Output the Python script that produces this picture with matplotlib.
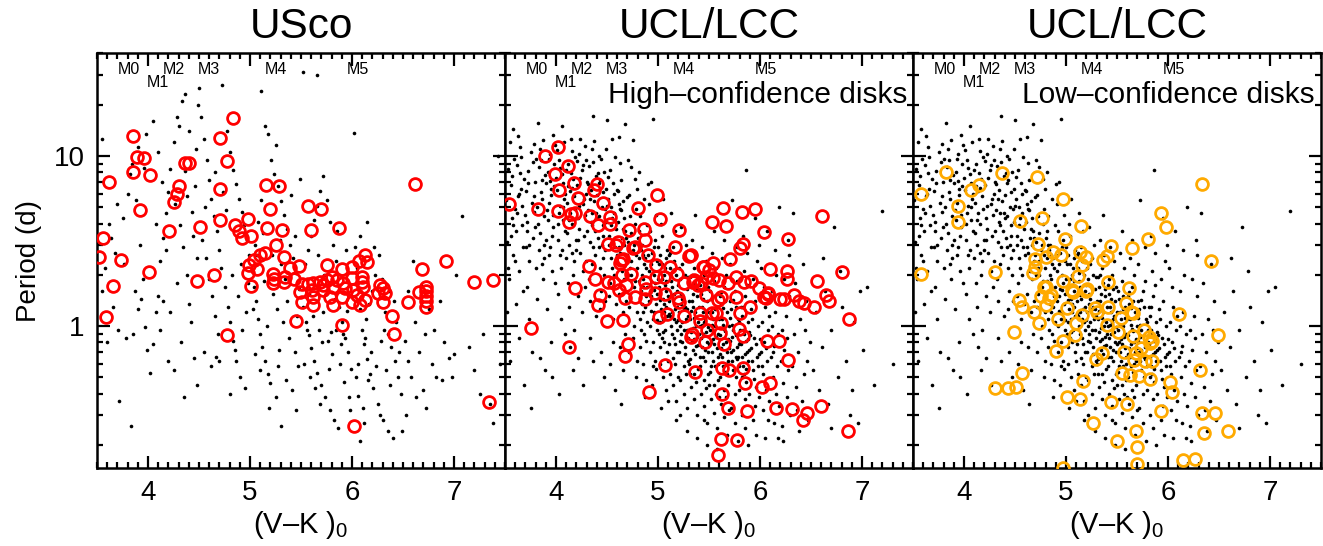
import numpy as np
import matplotlib.pyplot as plt
from matplotlib.ticker import FixedLocator, MultipleLocator, LogLocator, NullFormatter

plt.rcParams['font.family'] = ['Liberation Sans', 'DejaVu Sans']
plt.rcParams['mathtext.fontset'] = 'custom'
plt.rcParams['mathtext.rm'] = 'Liberation Sans'

# spectral type markers along the top of each panel
spt_names = ['M0', 'M1', 'M2', 'M3', 'M4', 'M5']
spt_vk = [3.81, 4.10, 4.25, 4.60, 5.25, 6.06]
spt_row = [0, 1, 0, 0, 0, 0]

# USco rotators: (V-K)0, period in days
usco_stars = [
    (3.55, 12.5), (3.62, 4.0), (3.58, 2.2), (3.66, 1.3), (3.71, 0.95), (3.78, 0.85), (3.83, 0.26), (3.72, 0.36),
    (3.60, 0.8), (3.55, 1.6), (3.68, 2.7), (3.75, 4.3), (3.80, 6.0), (3.84, 9.0), (3.88, 5.5), (3.92, 3.0),
    (3.95, 1.9), (3.90, 1.25), (3.97, 0.98), (3.93, 1.45), (3.99, 0.72), (3.85, 0.9), (3.64, 3.3), (3.70, 5.2),
    (3.82, 7.8), (3.90, 11.3), (3.98, 13.5), (3.96, 8.5), (3.76, 2.3), (3.87, 1.6),
    (4.02, 0.53), (4.05, 0.78), (4.08, 1.2), (4.10, 1.5), (4.12, 2.4), (4.15, 3.3), (4.18, 4.6), (4.20, 6.1),
    (4.22, 8.4), (4.25, 12.0), (4.28, 17.0), (4.30, 15.0), (4.33, 21.0), (4.36, 23.0), (4.05, 16.0), (4.10, 10.5),
    (4.14, 7.0), (4.26, 5.2), (4.31, 3.9), (4.34, 2.9), (4.38, 2.0), (4.40, 1.35), (4.42, 1.05), (4.45, 0.65),
    (4.48, 0.45), (4.12, 0.95), (4.20, 0.62), (4.25, 0.55), (4.35, 0.38), (4.08, 4.0), (4.18, 2.8), (4.28, 1.8),
    (4.43, 4.7), (4.46, 6.6), (4.47, 11.0), (4.40, 14.0), (4.44, 3.4), (4.36, 8.1), (4.22, 1.2), (4.32, 0.8),
    (4.50, 25.0), (4.49, 20.0), (4.48, 2.5), (4.15, 1.4), (4.38, 5.8),
    (4.52, 17.0), (4.55, 12.5), (4.58, 9.5), (4.60, 7.2), (4.62, 5.6), (4.65, 4.4), (4.68, 3.6), (4.70, 2.8),
    (4.72, 2.2), (4.75, 1.7), (4.78, 1.3), (4.80, 1.05), (4.83, 0.82), (4.86, 0.62), (4.90, 0.5), (4.95, 0.43),
    (4.53, 3.2), (4.57, 2.5), (4.60, 1.9), (4.63, 1.5), (4.66, 1.15), (4.69, 0.9), (4.73, 26.0), (4.77, 14.0),
    (4.80, 10.5), (4.83, 8.3), (4.86, 6.8), (4.89, 5.6), (4.92, 4.7), (4.94, 3.9), (4.97, 3.2), (4.99, 2.6),
    (4.55, 0.7), (4.62, 0.58), (4.70, 0.62), (4.85, 0.72), (4.92, 0.95), (4.96, 1.2), (4.88, 1.5), (4.82, 2.0),
    (4.76, 4.8), (4.66, 8.0), (4.74, 6.1), (4.56, 5.0), (4.91, 2.3), (4.98, 1.8), (4.80, 0.4), (4.67, 0.66),
    (5.02, 2.1), (5.04, 1.7), (5.06, 1.4), (5.08, 1.1), (5.10, 0.9), (5.12, 0.75), (5.15, 0.62), (5.18, 0.52),
    (5.20, 0.46), (5.25, 0.38), (5.30, 0.26), (5.05, 3.0), (5.08, 4.1), (5.11, 5.5), (5.11, 24.0), (5.15, 15.0),
    (5.18, 13.5), (5.21, 9.5), (5.24, 7.8), (5.27, 6.6), (5.30, 5.4), (5.33, 4.5), (5.36, 3.7), (5.39, 3.0),
    (5.42, 2.5), (5.45, 2.05), (5.48, 1.65), (5.03, 1.25), (5.14, 1.85), (5.22, 2.6), (5.26, 1.25), (5.32, 1.05),
    (5.38, 0.85), (5.44, 0.7), (5.47, 0.58), (5.35, 0.48), (5.41, 0.42), (5.28, 0.72), (5.17, 1.0), (5.23, 1.55),
    (5.34, 1.9), (5.46, 1.15), (5.13, 3.5), (5.07, 2.6), (5.29, 3.2), (5.40, 5.9), (5.49, 7.3), (5.25, 11.5),
    (5.45, 0.32), (5.19, 0.33), (5.10, 0.55), (5.36, 1.4), (5.05, 0.68), (5.44, 3.4), (5.30, 2.3), (5.27, 0.58),
    (5.52, 31.0), (5.66, 30.0), (5.52, 1.3), (5.55, 1.05), (5.58, 0.88), (5.60, 0.74), (5.63, 0.62), (5.66, 0.53),
    (5.70, 0.45), (5.74, 0.38), (5.78, 0.32), (5.82, 0.28), (5.86, 0.25), (5.54, 2.3), (5.57, 2.8), (5.60, 3.4),
    (5.63, 4.2), (5.66, 5.1), (5.69, 6.2), (5.72, 7.6), (5.75, 5.5), (5.78, 4.1), (5.81, 3.0), (5.84, 2.4),
    (5.87, 1.3), (5.90, 1.05), (5.93, 0.85), (5.96, 0.7), (5.99, 0.56), (5.56, 0.95), (5.62, 1.15), (5.68, 0.95),
    (5.72, 1.2), (5.76, 0.82), (5.80, 0.68), (5.84, 0.95), (5.88, 0.6), (5.92, 0.47), (5.97, 0.38), (5.64, 0.43),
    (5.71, 0.8), (5.53, 0.6), (5.59, 0.5), (5.77, 0.56), (5.89, 0.78), (5.95, 1.22), (5.98, 0.32), (5.67, 2.6),
    (5.85, 3.6), (5.94, 2.8), (5.58, 1.55), (5.73, 2.0), (5.83, 1.45), (5.69, 0.35), (5.79, 0.92), (5.91, 0.9),
    (6.02, 13.6), (6.03, 2.9), (6.05, 2.2), (6.08, 1.25), (6.10, 0.95), (6.12, 0.78), (6.15, 0.64), (6.18, 0.52),
    (6.21, 0.43), (6.25, 0.35), (6.30, 0.28), (6.35, 0.24), (6.40, 0.22), (6.04, 0.5), (6.06, 0.39), (6.08, 0.21),
    (6.11, 0.33), (6.14, 1.1), (6.17, 1.35), (6.20, 1.6), (6.23, 2.0), (6.26, 2.6), (6.29, 1.9), (6.32, 1.2),
    (6.35, 0.9), (6.38, 0.75), (6.42, 0.62), (6.45, 0.5), (6.48, 0.4), (6.13, 0.85), (6.19, 0.7), (6.24, 0.58),
    (6.28, 0.82), (6.33, 0.55), (6.37, 0.45), (6.43, 1.05), (6.46, 0.7), (6.49, 0.24), (6.08, 3.4), (6.15, 4.1),
    (6.22, 2.9), (6.41, 1.4), (6.27, 0.3), (6.12, 0.27), (6.06, 0.6), (6.16, 0.48), (6.36, 1.6), (6.31, 0.95),
    (6.52, 0.82), (6.55, 0.62), (6.58, 0.5), (6.62, 1.05), (6.66, 0.7), (6.70, 0.42), (6.72, 0.9), (6.75, 1.25),
    (6.78, 0.6), (6.82, 0.5), (6.86, 1.4), (6.90, 0.8), (6.95, 0.65), (6.98, 0.5), (7.02, 2.0), (7.08, 4.4),
    (7.15, 0.75), (7.20, 0.55), (7.28, 0.9), (7.35, 0.35), (7.38, 0.27), (7.43, 10.0), (7.45, 0.6), (6.60, 2.4),
    (6.68, 1.75), (6.80, 0.95), (6.55, 1.6), (6.63, 0.38), (6.73, 0.33), (6.88, 0.48), (7.00, 0.68), (7.25, 0.4),
    (6.53, 0.3),
]

# USco stars with disks
usco_disks = [
    (3.85, 13.1), (4.83, 16.7), (4.71, 12.8), (3.89, 9.9), (3.96, 9.7), (4.36, 9.1), (4.40, 9.1), (4.77, 9.35),
    (3.85, 8.05), (4.02, 7.7), (3.62, 7.0), (4.30, 6.6), (4.28, 5.97), (4.25, 5.36), (4.71, 6.4), (5.16, 6.75),
    (5.28, 6.6), (6.62, 6.85), (3.92, 4.8), (5.57, 5.08), (5.70, 4.88), (5.20, 4.88), (4.71, 4.2), (4.98, 4.27),
    (4.51, 3.82), (4.85, 3.93), (4.89, 3.62), (5.01, 3.39), (5.17, 3.77), (5.31, 3.67), (5.60, 3.67), (5.87, 3.77),
    (4.21, 3.62), (3.56, 3.29), (3.52, 2.55), (3.74, 2.44), (4.01, 2.08), (3.66, 1.72), (3.59, 1.13), (4.48, 1.84),
    (4.65, 2.0), (4.77, 0.885), (5.45, 1.07), (5.90, 1.01), (6.39, 1.15), (6.41, 0.90), (6.02, 0.258), (7.34, 0.357),
    (6.92, 2.41), (6.69, 2.16), (7.20, 1.81), (7.38, 1.87), (6.55, 1.38), (6.73, 1.70), (6.73, 1.60), (6.73, 1.50),
    (6.73, 1.40), (6.73, 1.30), (6.66, 1.58), (4.92, 3.3), (5.25, 2.99), (5.15, 2.69), (5.10, 2.61), (5.04, 2.44),
    (4.99, 2.28), (5.33, 2.55), (5.07, 2.16), (4.98, 2.05), (5.01, 1.72), (5.23, 2.02), (5.24, 1.89), (5.23, 1.79),
    (5.39, 2.19), (5.48, 2.25), (5.34, 1.94), (5.43, 1.89), (5.33, 1.81), (5.51, 1.77), (5.57, 1.77), (5.62, 1.79),
    (5.69, 1.81), (5.75, 1.86), (5.80, 1.94), (5.75, 2.28), (5.90, 2.16), (6.00, 2.22), (6.07, 2.41), (6.13, 2.61),
    (6.15, 2.38), (6.00, 1.91), (6.10, 1.94), (5.85, 1.86), (5.91, 1.79), (5.49, 1.58), (5.61, 1.63), (5.72, 1.63),
    (5.81, 1.70), (5.93, 1.67), (6.01, 1.63), (6.11, 1.70), (6.10, 1.81), (5.51, 1.38), (5.62, 1.48), (5.62, 1.33),
    (5.81, 1.33), (5.90, 1.48), (6.00, 1.38), (6.08, 1.33), (6.13, 1.42), (6.05, 1.52), (5.72, 1.74), (6.27, 1.74),
    (6.30, 1.67), (6.25, 1.56), (6.32, 1.56), (6.30, 1.38), (5.78, 1.48),
]

# UCL/LCC rotators (same sample in both right-hand panels)
ucl_stars = [
    (3.51, 5.5), (3.52, 3.1), (3.53, 8.4), (3.54, 1.9), (3.55, 12.1), (3.56, 6.7), (3.57, 4.3), (3.58, 14.4),
    (3.58, 2.6), (3.59, 9.6), (3.52, 1.2), (3.55, 0.62), (3.57, 7.6), (3.60, 4.9), (3.53, 2.2),
    (3.61, 3.6), (3.62, 8.8), (3.63, 5.8), (3.64, 2.1), (3.65, 11.2), (3.66, 6.4), (3.67, 3.9), (3.68, 1.6),
    (3.69, 7.3), (3.62, 4.6), (3.64, 0.85), (3.66, 9.9), (3.68, 2.9), (3.61, 1.35), (3.67, 5.1), (3.69, 0.45),
    (3.63, 13.0),
    (3.71, 6.2), (3.72, 4.1), (3.73, 8.1), (3.74, 2.4), (3.75, 10.5), (3.76, 5.3), (3.77, 3.3), (3.78, 11.8),
    (3.79, 7.0), (3.72, 1.7), (3.74, 1.1), (3.76, 0.7), (3.78, 4.7), (3.71, 2.9), (3.73, 6.9), (3.77, 9.2),
    (3.79, 3.8), (3.75, 0.33),
    (3.81, 5.0), (3.82, 15.6), (3.83, 8.6), (3.84, 3.5), (3.85, 6.1), (3.86, 2.3), (3.87, 12.4), (3.88, 4.4),
    (3.89, 7.7), (3.81, 1.45), (3.83, 2.8), (3.85, 9.5), (3.87, 1.9), (3.89, 0.55), (3.82, 4.0), (3.84, 11.0),
    (3.86, 5.6), (3.88, 3.0), (3.90, 6.9), (3.84, 0.65),
    (3.91, 4.8), (3.92, 8.0), (3.93, 2.6), (3.94, 10.3), (3.95, 5.9), (3.96, 3.4), (3.97, 13.2), (3.98, 6.6),
    (3.99, 1.8), (3.92, 4.2), (3.94, 7.1), (3.96, 2.1), (3.98, 9.0), (3.91, 1.25), (3.93, 5.3), (3.95, 0.8),
    (3.97, 3.8), (3.99, 11.5), (3.94, 2.9), (3.96, 0.5),
    (4.01, 6.3), (4.02, 3.2), (4.03, 9.4), (4.04, 5.1), (4.05, 2.2), (4.06, 7.8), (4.07, 4.2), (4.08, 12.0),
    (4.09, 3.6), (4.02, 1.55), (4.04, 8.5), (4.06, 2.8), (4.08, 5.6), (4.01, 10.8), (4.03, 4.6), (4.05, 1.1),
    (4.07, 6.9), (4.09, 0.9), (4.10, 2.5), (4.03, 0.4), (4.06, 15.0),
    (4.11, 5.3), (4.12, 8.9), (4.13, 3.0), (4.14, 6.2), (4.15, 12.6), (4.16, 4.0), (4.17, 7.3), (4.18, 2.4),
    (4.19, 9.9), (4.12, 1.8), (4.14, 4.6), (4.16, 10.6), (4.18, 5.8), (4.11, 3.5), (4.13, 1.3), (4.15, 7.9),
    (4.17, 2.0), (4.19, 4.9), (4.20, 3.2), (4.14, 0.75), (4.17, 0.55), (4.12, 6.6), (4.18, 0.95),
    (4.21, 6.7), (4.22, 4.3), (4.23, 10.2), (4.24, 2.7), (4.25, 8.2), (4.26, 5.2), (4.27, 3.4), (4.28, 11.4),
    (4.29, 6.0), (4.22, 1.5), (4.24, 7.4), (4.26, 2.1), (4.28, 4.5), (4.21, 9.3), (4.23, 3.7), (4.25, 1.2),
    (4.27, 5.6), (4.29, 2.4), (4.30, 7.0), (4.22, 0.65), (4.26, 0.45), (4.28, 1.7), (4.24, 12.5),
    (4.31, 4.8), (4.32, 8.7), (4.33, 3.1), (4.34, 6.3), (4.35, 10.9), (4.36, 17.2), (4.37, 5.4), (4.38, 2.6),
    (4.39, 7.6), (4.32, 1.9), (4.34, 4.1), (4.36, 9.2), (4.38, 3.6), (4.31, 6.8), (4.33, 1.4), (4.35, 2.3),
    (4.37, 12.2), (4.39, 4.6), (4.40, 5.9), (4.33, 0.85), (4.36, 0.62), (4.39, 1.15), (4.35, 3.9),
    (4.41, 3.3), (4.42, 6.9), (4.43, 2.2), (4.44, 9.6), (4.45, 5.0), (4.46, 3.9), (4.47, 8.0), (4.48, 2.8),
    (4.49, 11.0), (4.42, 4.4), (4.44, 1.6), (4.46, 6.1), (4.48, 4.9), (4.41, 7.9), (4.43, 1.25), (4.45, 3.0),
    (4.47, 2.0), (4.49, 6.4), (4.50, 16.3), (4.44, 0.7), (4.47, 0.5), (4.42, 10.0), (4.48, 1.4), (4.46, 2.5),
    (4.51, 5.6), (4.52, 3.4), (4.53, 8.3), (4.54, 2.5), (4.55, 4.3), (4.56, 6.9), (4.57, 2.0), (4.58, 9.9),
    (4.59, 3.7), (4.52, 1.5), (4.54, 5.0), (4.56, 1.1), (4.58, 2.9), (4.51, 7.5), (4.53, 1.8), (4.55, 12.5),
    (4.57, 4.6), (4.59, 1.35), (4.60, 6.3), (4.53, 0.6), (4.56, 0.8), (4.58, 0.42), (4.55, 2.2), (4.52, 3.0),
    (4.61, 4.1), (4.62, 12.9), (4.63, 2.7), (4.64, 7.2), (4.65, 3.3), (4.66, 5.4), (4.67, 1.9), (4.68, 15.4),
    (4.69, 2.4), (4.62, 1.55), (4.64, 4.8), (4.66, 1.2), (4.68, 3.6), (4.61, 6.2), (4.63, 9.1), (4.65, 2.1),
    (4.67, 4.3), (4.69, 1.4), (4.70, 5.7), (4.63, 0.75), (4.66, 0.55), (4.68, 0.9), (4.62, 2.9), (4.67, 3.0),
    (4.64, 0.35),
    (4.71, 3.1), (4.72, 5.9), (4.73, 2.2), (4.74, 8.6), (4.75, 12.3), (4.76, 1.7), (4.77, 4.0), (4.78, 2.6),
    (4.79, 6.4), (4.72, 1.3), (4.74, 3.5), (4.76, 1.0), (4.78, 4.9), (4.71, 2.0), (4.73, 1.55), (4.75, 2.8),
    (4.77, 7.3), (4.79, 1.2), (4.80, 3.3), (4.72, 0.7), (4.75, 0.85), (4.78, 0.5), (4.74, 2.4), (4.77, 1.85),
    (4.71, 9.5), (4.79, 0.62),
    (4.81, 2.5), (4.82, 4.4), (4.83, 1.6), (4.84, 3.0), (4.85, 1.9), (4.86, 5.6), (4.87, 1.3), (4.88, 2.2),
    (4.89, 3.9), (4.82, 1.1), (4.84, 2.0), (4.86, 0.9), (4.88, 1.5), (4.81, 3.6), (4.83, 2.8), (4.85, 1.2),
    (4.87, 2.5), (4.89, 1.7), (4.90, 6.8), (4.82, 0.75), (4.85, 0.6), (4.88, 0.48), (4.84, 1.35), (4.86, 2.3),
    (4.81, 8.0), (4.87, 0.38), (4.83, 0.95), (4.89, 1.05),
    (4.91, 2.1), (4.92, 3.6), (4.93, 1.5), (4.94, 2.7), (4.95, 16.5), (4.96, 1.2), (4.97, 1.8), (4.98, 4.5),
    (4.99, 2.4), (4.92, 1.0), (4.94, 1.65), (4.96, 2.9), (4.98, 1.35), (4.91, 5.2), (4.93, 2.3), (4.95, 1.1),
    (4.97, 3.2), (4.99, 0.95), (5.00, 1.9), (4.92, 0.7), (4.95, 0.8), (4.98, 0.56), (4.94, 0.45), (4.96, 2.0),
    (4.91, 1.4), (4.97, 0.62), (4.93, 7.0), (4.99, 1.55),
    (5.01, 1.7), (5.02, 2.6), (5.03, 1.25), (5.04, 3.4), (5.05, 1.45), (5.06, 2.0), (5.07, 0.95), (5.08, 1.6),
    (5.09, 2.8), (5.02, 1.05), (5.04, 1.9), (5.06, 0.8), (5.08, 1.3), (5.01, 2.3), (5.03, 4.0), (5.05, 1.1),
    (5.07, 2.2), (5.09, 0.7), (5.10, 1.5), (5.02, 0.6), (5.05, 0.5), (5.08, 0.42), (5.04, 0.85), (5.06, 1.35),
    (5.01, 0.9), (5.07, 1.75), (5.03, 0.33), (5.09, 1.15), (5.05, 5.6), (5.08, 2.5),
    (5.11, 1.4), (5.12, 2.2), (5.13, 1.0), (5.14, 1.7), (5.15, 2.9), (5.16, 0.85), (5.17, 1.25), (5.18, 2.0),
    (5.19, 0.7), (5.12, 1.15), (5.14, 0.9), (5.16, 1.55), (5.18, 1.05), (5.11, 2.6), (5.13, 1.85), (5.15, 0.65),
    (5.17, 3.6), (5.19, 1.3), (5.20, 1.75), (5.12, 0.52), (5.15, 0.45), (5.18, 0.36), (5.14, 1.2), (5.16, 2.4),
    (5.11, 0.78), (5.17, 0.6), (5.13, 4.6), (5.19, 0.95), (5.15, 1.45), (5.18, 0.28),
    (5.21, 1.2), (5.22, 1.9), (5.23, 0.9), (5.24, 1.45), (5.25, 2.5), (5.26, 0.75), (5.27, 1.1), (5.28, 1.65),
    (5.29, 0.62), (5.22, 1.0), (5.24, 0.8), (5.26, 1.3), (5.28, 0.95), (5.21, 2.2), (5.23, 1.55), (5.25, 0.58),
    (5.27, 3.0), (5.29, 1.15), (5.30, 1.4), (5.22, 0.48), (5.25, 0.4), (5.28, 0.33), (5.24, 1.05), (5.26, 2.0),
    (5.21, 0.7), (5.27, 0.52), (5.23, 3.8), (5.29, 0.85), (5.25, 1.25), (5.28, 0.24), (5.22, 0.3),
    (5.31, 1.1), (5.32, 1.7), (5.33, 0.82), (5.34, 1.3), (5.35, 2.2), (5.36, 0.68), (5.37, 1.0), (5.38, 1.5),
    (5.39, 0.56), (5.32, 0.92), (5.34, 0.72), (5.36, 1.2), (5.38, 0.86), (5.31, 1.95), (5.33, 1.4), (5.35, 0.52),
    (5.37, 2.6), (5.39, 1.05), (5.40, 1.3), (5.32, 0.44), (5.35, 0.37), (5.38, 0.3), (5.34, 0.97), (5.36, 1.8),
    (5.31, 0.64), (5.37, 0.47), (5.33, 3.2), (5.39, 0.77), (5.35, 1.12), (5.38, 0.22), (5.36, 4.5),
    (5.41, 1.0), (5.42, 1.55), (5.43, 0.75), (5.44, 1.2), (5.45, 2.0), (5.46, 0.62), (5.47, 0.92), (5.48, 1.4),
    (5.49, 0.52), (5.42, 0.85), (5.44, 0.66), (5.46, 1.1), (5.48, 0.8), (5.41, 1.75), (5.43, 1.3), (5.45, 0.48),
    (5.47, 2.4), (5.49, 0.98), (5.50, 1.2), (5.42, 0.4), (5.45, 0.34), (5.48, 0.27), (5.44, 0.9), (5.46, 1.65),
    (5.41, 0.58), (5.47, 0.43), (5.43, 2.9), (5.49, 0.7), (5.45, 1.05), (5.48, 0.2),
    (5.51, 0.95), (5.52, 1.45), (5.53, 0.7), (5.54, 1.1), (5.55, 1.85), (5.56, 0.58), (5.57, 0.86), (5.58, 1.3),
    (5.59, 0.48), (5.52, 0.8), (5.54, 0.62), (5.56, 1.0), (5.58, 0.74), (5.51, 1.6), (5.53, 1.2), (5.55, 0.45),
    (5.57, 2.2), (5.59, 0.9), (5.60, 1.1), (5.52, 0.37), (5.55, 0.31), (5.58, 0.25), (5.54, 0.84), (5.56, 1.5),
    (5.51, 0.54), (5.57, 0.4), (5.53, 2.7), (5.59, 0.66), (5.55, 3.6), (5.58, 0.19),
    (5.61, 0.88), (5.62, 1.35), (5.63, 0.66), (5.64, 1.02), (5.65, 1.7), (5.66, 0.54), (5.67, 0.8), (5.68, 1.2),
    (5.69, 0.45), (5.62, 0.74), (5.64, 0.58), (5.66, 0.94), (5.68, 0.7), (5.61, 1.5), (5.63, 1.1), (5.65, 0.42),
    (5.67, 2.0), (5.69, 0.84), (5.70, 1.0), (5.62, 0.35), (5.65, 0.29), (5.68, 0.23), (5.64, 0.78), (5.66, 1.4),
    (5.61, 0.5), (5.67, 0.38), (5.63, 2.5), (5.69, 0.62), (5.65, 3.2),
    (5.71, 0.82), (5.72, 1.25), (5.73, 0.62), (5.74, 0.95), (5.75, 1.6), (5.76, 0.5), (5.77, 0.75), (5.78, 1.1),
    (5.79, 0.42), (5.72, 0.7), (5.74, 0.55), (5.76, 0.88), (5.78, 0.66), (5.71, 1.4), (5.73, 1.02), (5.75, 0.4),
    (5.77, 1.85), (5.79, 0.78), (5.80, 0.95), (5.72, 0.33), (5.75, 0.27), (5.78, 0.21), (5.74, 0.72), (5.76, 1.3),
    (5.71, 2.3), (5.77, 2.9), (5.73, 5.5), (5.79, 0.58),
    (5.81, 0.78), (5.82, 1.15), (5.83, 0.58), (5.84, 0.9), (5.85, 1.5), (5.86, 0.47), (5.87, 0.7), (5.88, 1.05),
    (5.89, 0.4), (5.82, 0.66), (5.84, 0.52), (5.86, 0.82), (5.88, 0.62), (5.81, 1.3), (5.83, 0.95), (5.85, 0.37),
    (5.87, 1.75), (5.89, 0.72), (5.90, 0.88), (5.82, 0.3), (5.85, 0.25), (5.88, 0.2), (5.84, 2.1), (5.86, 8.2),
    (5.87, 2.7), (5.83, 3.4),
    (5.91, 0.74), (5.92, 1.1), (5.93, 0.55), (5.94, 0.85), (5.95, 1.4), (5.96, 0.44), (5.97, 0.66), (5.98, 1.0),
    (5.99, 0.38), (5.92, 0.62), (5.94, 0.49), (5.96, 0.78), (5.98, 0.58), (5.91, 1.25), (5.93, 1.9), (5.95, 0.34),
    (5.97, 2.4), (5.99, 0.68), (6.00, 0.84), (5.93, 0.28), (5.96, 0.23), (5.95, 4.3), (5.99, 3.0),
    (6.01, 0.7), (6.02, 1.05), (6.03, 0.52), (6.04, 0.8), (6.05, 1.3), (6.06, 0.42), (6.07, 0.62), (6.08, 0.95),
    (6.09, 0.36), (6.02, 0.58), (6.04, 1.7), (6.06, 0.74), (6.08, 0.28), (6.01, 2.2), (6.05, 0.22), (6.07, 3.6),
    (6.09, 1.15), (6.03, 0.32),
    (6.11, 0.66), (6.12, 1.0), (6.13, 0.5), (6.14, 0.76), (6.15, 1.2), (6.16, 0.4), (6.17, 0.58), (6.18, 0.9),
    (6.19, 0.34), (6.12, 1.6), (6.14, 0.27), (6.16, 2.0), (6.18, 0.22), (6.15, 2.8), (6.19, 5.0), (6.13, 0.7),
    (6.21, 0.62), (6.22, 0.95), (6.23, 0.46), (6.24, 0.72), (6.25, 1.15), (6.26, 0.38), (6.27, 0.55), (6.28, 1.5),
    (6.29, 0.3), (6.22, 0.26), (6.24, 1.9), (6.26, 0.85), (6.28, 2.6), (6.23, 0.21), (6.27, 3.2),
    (6.31, 0.58), (6.33, 0.9), (6.35, 0.44), (6.37, 0.7), (6.39, 1.1), (6.41, 0.36), (6.43, 0.52), (6.45, 1.4),
    (6.47, 0.28), (6.49, 0.8), (6.34, 1.8), (6.38, 0.24), (6.42, 2.3), (6.46, 0.62), (6.32, 4.6), (6.44, 0.95),
    (6.36, 0.32),
    (6.52, 0.55), (6.55, 1.2), (6.58, 0.42), (6.61, 0.75), (6.64, 1.6), (6.67, 0.35), (6.70, 0.95), (6.73, 3.8),
    (6.76, 0.5), (6.80, 1.3), (6.84, 0.62), (6.88, 0.3), (6.92, 1.05), (6.96, 0.27), (7.01, 0.72), (7.05, 1.7),
    (7.12, 0.45), (7.20, 4.75), (7.30, 0.6), (6.62, 2.5), (6.70, 0.25), (6.78, 2.1), (6.90, 0.42), (6.98, 1.6),
    # denser core of the slow/fast sequences
    (4.93, 1.22), (4.96, 1.62), (4.99, 1.08), (5.02, 1.42), (5.05, 0.92), (5.08, 1.85), (5.11, 1.18), (5.14, 1.52),
    (5.17, 0.78), (5.20, 1.08), (5.23, 1.35), (5.26, 0.68), (5.29, 1.95), (5.32, 1.22), (5.35, 0.84), (5.38, 1.65),
    (5.41, 0.66), (5.44, 1.45), (5.47, 1.15), (5.50, 0.78), (5.53, 1.02), (5.56, 1.25), (5.59, 0.6), (5.62, 1.58),
    (5.65, 0.96), (5.68, 0.52), (5.71, 1.12), (5.74, 1.42), (5.77, 0.64), (5.80, 0.8), (5.83, 1.3), (5.86, 0.56),
    (5.89, 0.92), (5.02, 0.75), (5.06, 1.2), (5.10, 0.62), (5.13, 2.05), (5.16, 1.1), (5.19, 1.6), (5.22, 0.82),
    (5.25, 0.95), (5.28, 1.25), (5.31, 0.52), (5.34, 1.55), (5.37, 0.76), (5.40, 0.9), (5.43, 1.02), (5.46, 0.72),
    (5.49, 1.7), (5.52, 0.58), (5.55, 0.78), (5.58, 1.12), (5.61, 0.68), (5.64, 1.28), (5.67, 0.6), (5.70, 0.74),
    (5.73, 0.86), (5.76, 0.66), (5.79, 1.05), (5.82, 0.5), (5.85, 0.68), (5.88, 0.84), (4.85, 1.7), (4.88, 0.82),
    (4.90, 2.6), (4.95, 0.58), (5.00, 2.9), (5.04, 2.3), (5.12, 2.7), (5.24, 2.3), (5.33, 2.0), (5.42, 1.9),
    (5.50, 0.45), (5.60, 0.38), (5.70, 0.32), (5.45, 0.28), (5.30, 0.6), (5.20, 0.5), (5.10, 0.36),
    (3.56, 3.4), (3.60, 2.4), (3.65, 7.9), (3.70, 4.5), (3.74, 3.0), (3.78, 5.8), (3.80, 2.2), (3.86, 7.2),
    (3.90, 3.2), (3.93, 9.6), (3.97, 4.5), (4.00, 7.4), (4.04, 2.6), (4.07, 5.0), (4.10, 8.2), (4.13, 4.2),
    (4.16, 6.5), (4.20, 2.8), (4.23, 5.1), (4.26, 8.8), (4.30, 3.6), (4.33, 5.6), (4.36, 2.9), (4.40, 4.3),
    (4.43, 7.2), (4.46, 3.4), (4.50, 5.1), (4.54, 3.9), (4.57, 6.0), (4.60, 2.6), (4.63, 4.9), (4.66, 3.7),
    (4.70, 2.6), (4.73, 4.4), (4.76, 3.0), (4.79, 2.2), (4.82, 3.0), (4.85, 2.6), (3.58, 3.9), (3.64, 6.0),
    (3.72, 3.6), (3.80, 9.6), (3.88, 2.5), (3.95, 6.4), (4.02, 4.0), (4.09, 6.0), (4.16, 2.7), (4.22, 3.2),
    (4.29, 9.5), (4.35, 4.6), (4.42, 2.9), (4.49, 4.1), (4.56, 3.2), (4.62, 5.2), (4.69, 3.3), (4.74, 2.0),
    (4.81, 1.85),
]

# UCL/LCC high-confidence disks
ucl_high = [
    (4.02, 11.3), (3.89, 10.0), (4.12, 8.7), (3.99, 7.8), (4.18, 6.9), (4.40, 6.85), (4.37, 6.3), (4.03, 6.3),
    (4.22, 5.66), (3.54, 5.2), (3.82, 4.9), (4.02, 4.75), (4.46, 5.3), (4.99, 5.9), (4.80, 4.94), (4.15, 4.55),
    (4.19, 4.6), (4.13, 4.1), (4.33, 4.44), (4.53, 4.38), (4.53, 3.98), (4.41, 3.93), (5.02, 4.26), (5.64, 4.94),
    (5.82, 4.68), (5.95, 4.87), (6.61, 4.44), (5.53, 4.09), (5.67, 3.87), (5.21, 3.67), (4.72, 3.67), (4.86, 3.72),
    (4.87, 3.2), (6.04, 3.57), (6.27, 3.25), (4.51, 3.04), (4.61, 3.12), (4.59, 3.0), (4.75, 2.88), (4.77, 2.92),
    (5.17, 2.92), (5.80, 2.88), (5.83, 3.04), (5.30, 2.58), (4.90, 2.62), (4.32, 2.25), (4.64, 2.44), (4.66, 2.48),
    (4.63, 2.35), (5.71, 2.48), (5.54, 2.35), (6.10, 2.16), (6.26, 2.11), (6.26, 1.89), (6.80, 2.08), (6.56, 1.84),
    (4.38, 1.89), (4.19, 1.67), (3.75, 0.97), (4.13, 0.75), (4.41, 1.33), (4.43, 1.52), (4.50, 1.07), (4.66, 1.08),
    (4.71, 0.78), (4.68, 0.67), (4.91, 0.41), (5.07, 0.59), (5.01, 1.13), (5.09, 1.18), (5.25, 1.15), (5.33, 0.90),
    (5.36, 0.54), (5.46, 0.81), (5.41, 1.19), (5.41, 1.07), (5.48, 0.95), (5.53, 1.19), (5.57, 1.19), (5.62, 1.04),
    (5.61, 0.91), (5.65, 0.78), (5.63, 0.57), (5.70, 0.55), (5.63, 0.40), (5.69, 0.33), (5.62, 0.216), (5.77, 0.213),
    (5.59, 0.174), (5.87, 0.316), (5.85, 0.46), (6.02, 0.44), (6.10, 0.46), (5.83, 0.57), (5.79, 0.96), (5.83, 0.87),
    (5.90, 1.29), (5.80, 1.19), (6.07, 0.82), (6.19, 0.82), (6.27, 0.63), (6.16, 0.33), (6.31, 0.325), (6.42, 0.28),
    (6.46, 0.31), (6.60, 0.34), (6.86, 0.24), (6.87, 1.10), (6.04, 1.48), (6.08, 1.54), (6.20, 1.44), (6.24, 1.44),
    (6.33, 1.52), (6.38, 1.40), (6.43, 1.37), (6.53, 1.29), (6.65, 1.52), (6.68, 1.40), (5.44, 2.22), (5.35, 1.87),
    (5.47, 1.94), (5.54, 1.91), (5.60, 1.87), (5.69, 1.79), (5.76, 1.94), (5.84, 1.81), (5.91, 1.84), (5.99, 1.67),
    (6.08, 1.56), (6.06, 1.46), (5.39, 1.74), (5.47, 1.52), (5.59, 1.42), (5.62, 1.48), (5.76, 1.48), (5.32, 0.86),
    (5.32, 2.61), (4.51, 1.81), (4.57, 1.79), (4.62, 1.63), (4.69, 1.74), (4.74, 2.02), (4.65, 1.99), (4.68, 1.46),
    (4.77, 1.48), (4.87, 1.44), (4.87, 1.81), (4.88, 1.65), (4.98, 2.28), (5.06, 1.94), (4.98, 1.94), (5.12, 2.22),
    (5.19, 2.02), (4.97, 1.56), (5.07, 1.54), (5.20, 1.46), (5.21, 1.38), (5.25, 1.79), (5.34, 1.81), (5.42, 1.79),
    (5.45, 2.22), (5.50, 2.13),
]

# UCL/LCC low-confidence disks
ucl_low = [
    (3.82, 8.05), (3.58, 5.97), (4.07, 6.3), (4.15, 6.75), (4.37, 7.95), (4.72, 7.5), (3.94, 5.08), (3.94, 4.09),
    (4.97, 5.58), (4.55, 4.15), (4.76, 4.32), (5.15, 3.87), (6.33, 6.85), (5.93, 4.62), (5.98, 3.82), (5.80, 3.25),
    (5.65, 2.88), (5.44, 2.96), (5.40, 2.58), (5.36, 2.44), (6.42, 2.41), (4.99, 3.25), (4.73, 3.04), (4.87, 2.72),
    (4.95, 2.62), (4.80, 2.55), (4.70, 2.48), (4.70, 2.22), (4.68, 2.05), (5.14, 2.72), (5.20, 2.55), (5.16, 2.28),
    (3.58, 2.02), (4.30, 2.08), (4.97, 1.84), (5.12, 1.97), (5.41, 1.81), (4.80, 1.70), (5.06, 1.63), (5.21, 1.65),
    (5.62, 1.67), (4.78, 1.70), (4.75, 1.50), (4.85, 1.52), (4.83, 1.46), (4.80, 1.33), (4.54, 1.42), (4.57, 1.29),
    (4.69, 1.21), (4.74, 1.04), (4.49, 0.92), (4.92, 1.10), (5.01, 1.28), (5.07, 1.58), (5.20, 1.61), (5.28, 1.28),
    (5.30, 1.21), (5.16, 1.16), (5.10, 1.04), (5.41, 1.29), (5.59, 1.37), (5.64, 1.21), (5.66, 1.19), (5.54, 1.11),
    (5.40, 1.01), (5.09, 0.885), (4.97, 0.82), (4.90, 0.71), (5.51, 0.92), (5.66, 0.87), (5.76, 0.95), (5.81, 0.86),
    (5.84, 0.82), (5.82, 0.79), (6.11, 1.18), (6.49, 0.885), (5.35, 0.69), (5.29, 0.64), (5.57, 0.70), (5.69, 0.69),
    (5.67, 0.63), (5.74, 0.74), (5.77, 0.62), (5.84, 0.62), (5.55, 0.53), (5.63, 0.515), (5.72, 0.51), (5.82, 0.49),
    (5.17, 0.475), (6.02, 0.47), (6.04, 0.41), (6.31, 0.55), (4.57, 0.53), (4.30, 0.43), (4.43, 0.43), (4.51, 0.44),
    (5.01, 0.38), (5.14, 0.37), (5.44, 0.357), (5.60, 0.35), (5.93, 0.316), (6.33, 0.31), (6.46, 0.31), (5.26, 0.27),
    (5.69, 0.24), (5.70, 0.195), (6.35, 0.235), (6.59, 0.24), (5.50, 0.21), (6.15, 0.163), (6.26, 0.165),
    (5.70, 0.154), (4.97, 0.146),
]

usco_stars = np.array(usco_stars)
usco_disks = np.array(usco_disks)
ucl_stars = np.array(ucl_stars)
ucl_high = np.array(ucl_high)
ucl_low = np.array(ucl_low)

panels = [
    ('USco', usco_stars, usco_disks, 'red', None),
    ('UCL/LCC', ucl_stars, ucl_high, 'red', 'High\u2013confidence disks'),
    ('UCL/LCC', ucl_stars, ucl_low, '#FFAA00', 'Low\u2013confidence disks'),
]

W, H = 1323, 546
fig = plt.figure(figsize=(W / 100, H / 100), dpi=100)
lefts = [97, 505, 913]
pw = 408
bottom, top = 78.3, 492.7

for i, (title, stars, disks, col, note) in enumerate(panels):
    ax = fig.add_axes([lefts[i] / W, bottom / H, pw / W, (top - bottom) / H])
    ax.set_yscale('log')
    ax.set_xlim(3.5, 7.5)
    ax.set_ylim(0.147, 40)

    ax.plot(stars[:, 0], stars[:, 1], 'o', ms=2.6, mfc='black', mec='none', zorder=2)
    ax.plot(disks[:, 0], disks[:, 1], 'o', ms=8.5, mfc='none', mec=col, mew=2.0, zorder=3)

    for name, vk, row in zip(spt_names, spt_vk, spt_row):
        yy = 32.0 if row == 0 else 27.0
        ax.text(vk, yy, name, fontsize=11.5, ha='center', va='center')

    if note:
        ax.text(0.985, 0.9, note, transform=ax.transAxes, fontsize=21.5,
                ha='right', va='center')

    ax.set_title(title, fontsize=30.5, pad=11)

    ax.xaxis.set_major_locator(FixedLocator([4, 5, 6, 7]))
    ax.xaxis.set_minor_locator(MultipleLocator(0.1))
    ax.yaxis.set_major_locator(FixedLocator([1, 10]))
    ax.yaxis.set_minor_locator(LogLocator(base=10, subs=np.arange(2, 10)))
    ax.yaxis.set_minor_formatter(NullFormatter())
    if i == 0:
        ax.set_yticklabels(['1', '10'])
        ax.set_ylabel('Period (d)', fontsize=20, labelpad=8)
    else:
        ax.set_yticklabels([])
    ax.set_xticklabels(['4', '5', '6', '7'])
    ax.set_xlabel('(V\u2013K )$_{0}$', fontsize=21, labelpad=2)

    ax.tick_params(which='both', direction='in', top=True, right=True, width=1.6,
                   labelsize=20, pad=9)
    ax.tick_params(which='major', length=9)
    ax.tick_params(which='minor', length=4.5)
    for s in ax.spines.values():
        s.set_linewidth(1.8)

fig.savefig('out.png', dpi=100)
